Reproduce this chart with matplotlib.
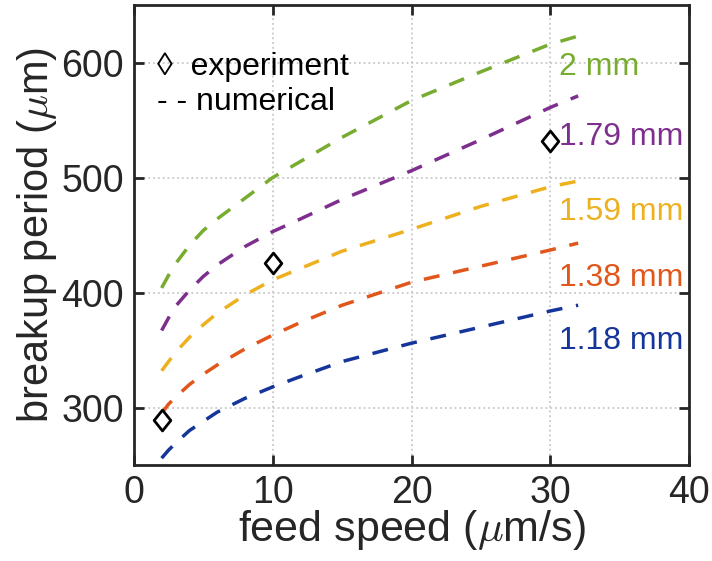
import matplotlib
matplotlib.use('Agg')
import matplotlib.pyplot as plt
from matplotlib.path import Path

plt.rcParams['font.family'] = ['Liberation Sans', 'DejaVu Sans']
plt.rcParams['mathtext.fontset'] = 'cm'

# feed speed (um/s) at which the numerical curves were read
speed = [2, 2.5, 3, 4, 5, 6, 7, 8, 10, 12, 15, 20, 25, 30, 32]

# numerical breakup period (um) for each nozzle diameter
num_118 = [256, 263, 269, 280, 288, 296, 302, 308, 318, 327, 340, 356, 370, 384, 389]
num_138 = [295, 303, 309, 320, 329, 337, 344, 351, 363, 374, 389, 409, 423, 437, 443]
num_159 = [332, 340, 348, 361, 372, 382, 390, 398, 411, 421, 436, 455, 475, 492, 497]
num_179 = [367, 378, 388, 402, 414, 424, 432, 440, 453, 464, 481, 506, 533, 561, 571]
num_200 = [404, 415, 425, 441, 454, 464, 473, 482, 500, 514, 535, 567, 592, 616, 623]

# experiment points
exp_speed = [2, 10, 30]
exp_period = [289, 426, 532]

labels = ['1.18 mm', '1.38 mm', '1.59 mm', '1.79 mm', '2 mm']
label_x = [30.6, 30.6, 30.6, 30.6, 30.6]
label_y = [358, 413, 470, 535, 596]
colors = ['#16359a', '#e0561b', '#edb120', '#7e2f8e', '#77ac30']
series = [num_118, num_138, num_159, num_179, num_200]

DARK = '#262626'
diamond = Path([(0, 1), (0.8, 0), (0, -1), (-0.8, 0), (0, 1)], closed=True)

fig = plt.figure(figsize=(7.12, 5.61), dpi=100)
ax = fig.add_axes([0.188, 0.171, 0.78, 0.820])

for ys, c in zip(series, colors):
    ax.plot(speed, ys, color=c, lw=2.5, dashes=(4.6, 4.0))

ax.plot(exp_speed, exp_period, marker=diamond, ms=15, mfc='white', mec='black',
        mew=2, ls='none')

for t, x, y, c in zip(labels, label_x, label_y, colors):
    ax.text(x, y, t, color=c, fontsize=23, ha='left', va='center')

# legend drawn as text, like the original
ax.text(0.041, 0.848, '\u25ca  experiment', transform=ax.transAxes, fontsize=23,
        color='black', ha='left', va='baseline')
ax.text(0.041, 0.772, '- - numerical', transform=ax.transAxes, fontsize=23,
        color='black', ha='left', va='baseline')

ax.set_xlim(0, 40)
ax.set_ylim(250, 650)
ax.set_xticks([0, 10, 20, 30, 40])
ax.set_yticks([300, 400, 500, 600])
ax.grid(True, ls=':', color='#c8c8c8', lw=1.3)
ax.tick_params(direction='in', length=7, width=2, top=True, right=True,
               labelsize=27, colors=DARK, pad=7)
for s in ax.spines.values():
    s.set_linewidth(2)
    s.set_color(DARK)

ax.set_xlabel(r'feed speed ($\mu$m/s)', fontsize=31, color=DARK, labelpad=-2)
ax.set_ylabel(r'breakup period ($\mu$m)', fontsize=30, color=DARK, labelpad=2)

fig.savefig('out.png', dpi=100)
